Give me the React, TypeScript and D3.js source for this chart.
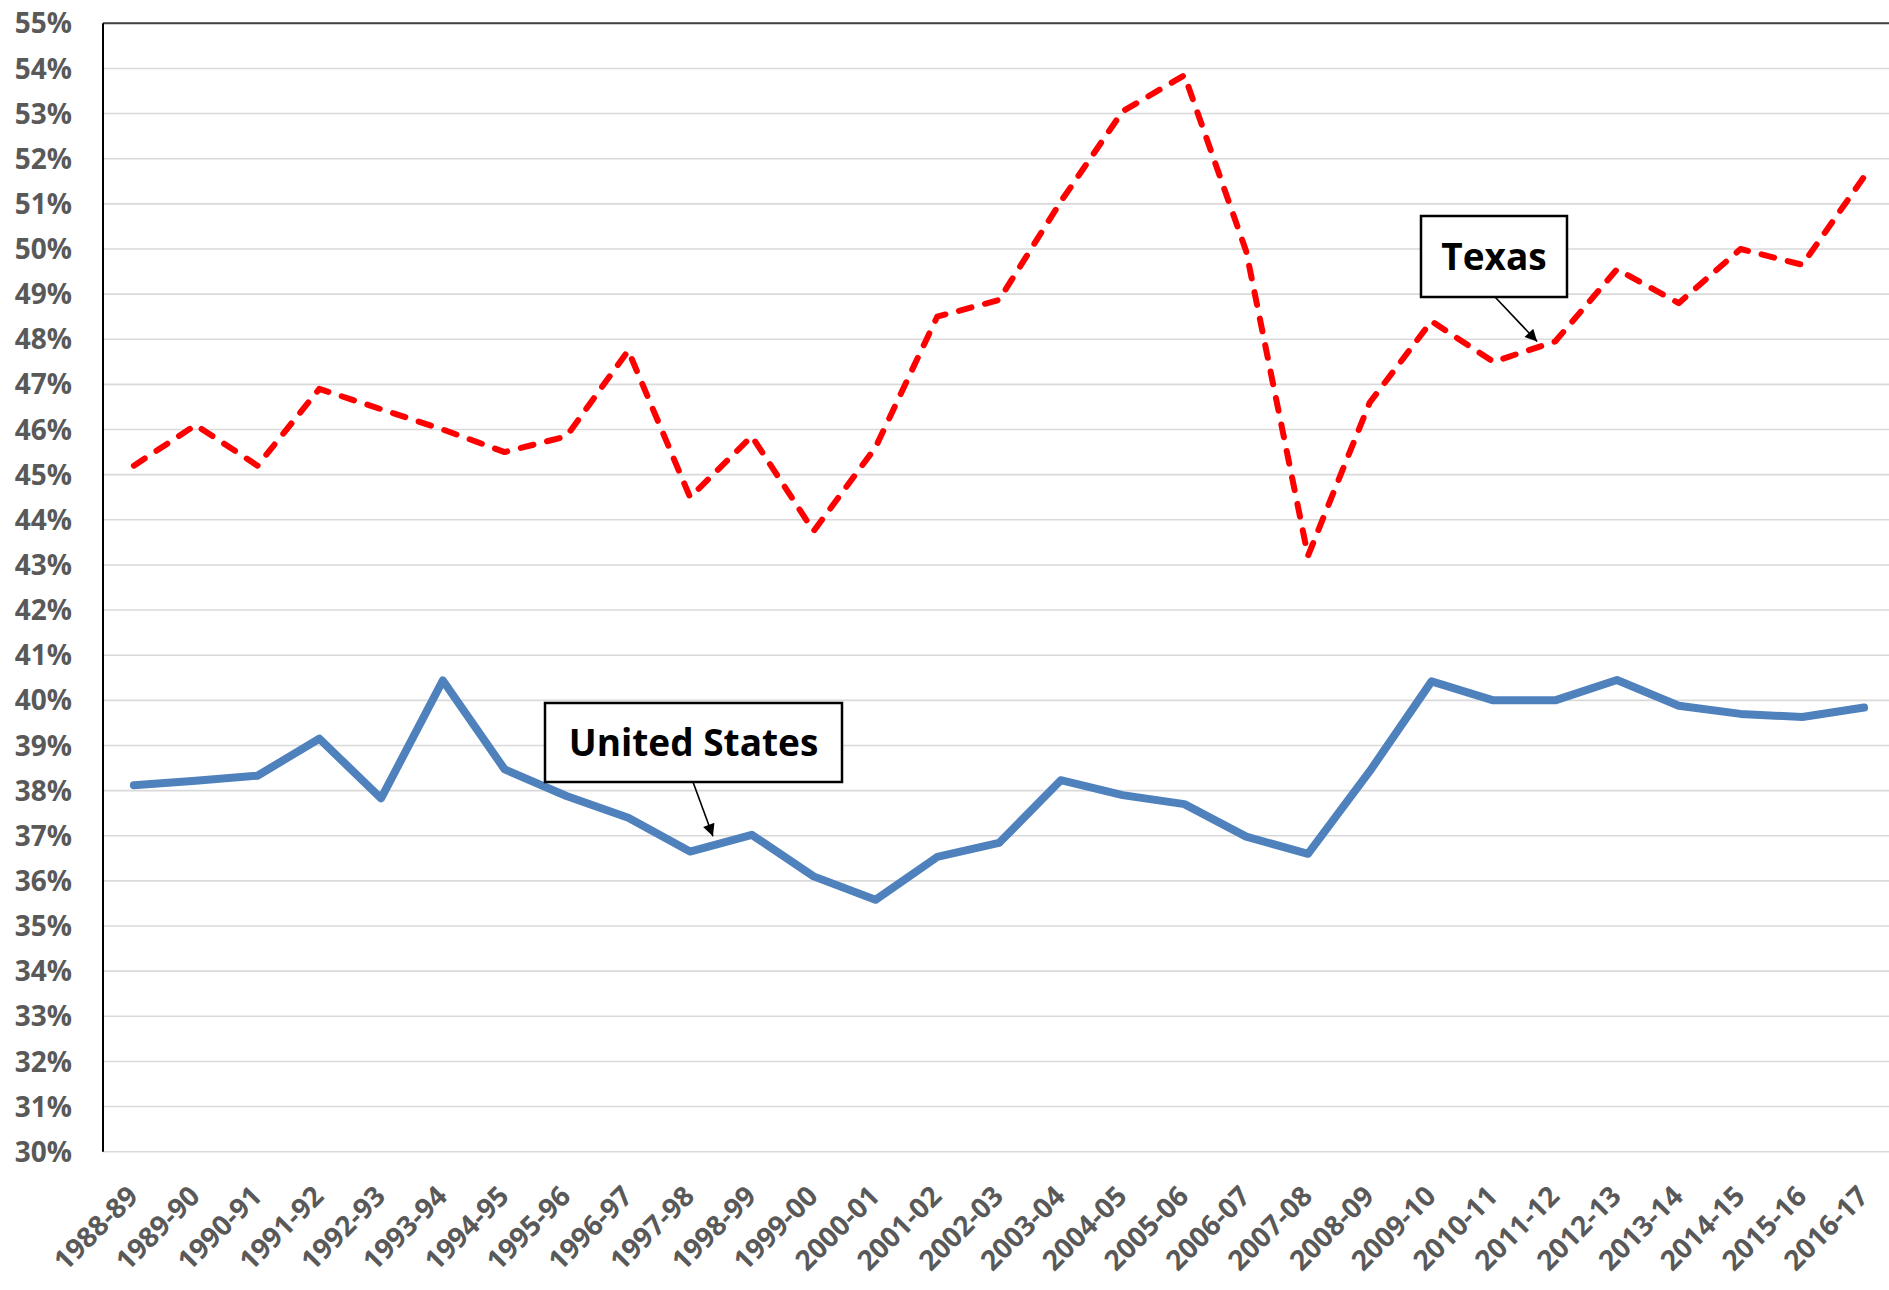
import React from "react";
import * as d3 from "d3";

// school years on the x axis
const years = [
  "1988-89", "1989-90", "1990-91", "1991-92", "1992-93", "1993-94", "1994-95",
  "1995-96", "1996-97", "1997-98", "1998-99", "1999-00", "2000-01", "2001-02",
  "2002-03", "2003-04", "2004-05", "2005-06", "2006-07", "2007-08", "2008-09",
  "2009-10", "2010-11", "2011-12", "2012-13", "2013-14", "2014-15", "2015-16",
  "2016-17",
];

// percent values
const texas = [
  45.2, 46.1, 45.2, 46.9, 46.45, 46.0, 45.5, 45.85, 47.75, 44.5, 45.85, 43.75,
  45.6, 48.5, 48.87, 51.05, 53.05, 53.85, 49.95, 43.2, 46.6, 48.4, 47.5, 47.95,
  49.55, 48.8, 50.0, 49.65, 51.6,
];

const unitedStates = [
  38.12, 38.22, 38.33, 39.15, 37.83, 40.44, 38.47, 37.88, 37.4, 36.65, 37.02,
  36.1, 35.58, 36.53, 36.84, 38.23, 37.9, 37.7, 36.98, 36.6, 38.43, 40.42,
  40.0, 40.0, 40.45, 39.88, 39.7, 39.63, 39.84,
];

const yTicks = d3.range(30, 56, 1);

const W = 1889;
const H = 1290;
const plotLeft = 103;
const plotRight = 1895;
const plotTop = 23.3;
const plotBottom = 1151.7;

const FONT = "'Open Sans', 'DejaVu Sans', sans-serif";

export default function App() {
  const x = d3.scalePoint<string>().domain(years).range([plotLeft, plotRight]).padding(0.5);
  const y = d3.scaleLinear().domain([30, 55]).range([plotBottom, plotTop]);

  const line = d3
    .line<number>()
    .x((_, i) => x(years[i]) as number)
    .y((d) => y(d));

  // annotation boxes, anchored near a data point
  const txX = x("2011-12") as number;
  const txY = y(texas[23]);
  const usX = ((x("1997-98") as number) + (x("1998-99") as number)) / 2;
  const usY = y((unitedStates[9] + unitedStates[10]) / 2);

  const notes = [
    { label: "Texas", bx: 1421, by: 216, bw: 146, bh: 81, ax: 1495, tx: txX - 18, ty: txY },
    { label: "United States", bx: 545, by: 703, bw: 297, bh: 79, ax: 693, tx: usX - 8, ty: usY - 7 },
  ];

  return (
    <svg
      width={W}
      height={H}
      style={{ position: "absolute", left: 0, top: 0, display: "block", background: "#fff" }}
    >
      <defs>
        <marker
          id="arrow"
          viewBox="0 0 10 10"
          refX="10"
          refY="5"
          markerWidth="14"
          markerHeight="12"
          markerUnits="userSpaceOnUse"
          orient="auto"
        >
          <path d="M0,0 L10,5 L0,10 z" fill="#000" />
        </marker>
      </defs>

      {/* gridlines */}
      {yTicks.map((t) => (
        <line
          key={t}
          x1={plotLeft}
          x2={plotRight}
          y1={y(t)}
          y2={y(t)}
          stroke="#d9d9d9"
          strokeWidth={1.6}
        />
      ))}

      {/* frame: top and left */}
      <line x1={plotLeft} x2={plotRight} y1={plotTop} y2={plotTop} stroke="#404040" strokeWidth={2} />
      <line x1={plotLeft} x2={plotLeft} y1={plotTop} y2={plotBottom} stroke="#000" strokeWidth={2} />

      {/* y labels */}
      {yTicks.map((t) => (
        <text
          key={t}
          x={72}
          y={y(t)}
          dy="0.36em"
          textAnchor="end"
          fontFamily={FONT}
          fontWeight="bold"
          fontSize={28}
          fill="#595959"
        >
          {t}%
        </text>
      ))}

      {/* x labels */}
      {years.map((yr) => (
        <text
          key={yr}
          transform={`translate(${(x(yr) as number) + 6},${1198}) rotate(-45)`}
          textAnchor="end"
          fontFamily={FONT}
          fontWeight="bold"
          fontSize={28}
          fill="#595959"
        >
          {yr}
        </text>
      ))}

      {/* series */}
      <path
        d={line(unitedStates) ?? ""}
        fill="none"
        stroke="#4f81bd"
        strokeWidth={8}
        strokeLinejoin="round"
        strokeLinecap="round"
      />
      <path
        d={line(texas) ?? ""}
        fill="none"
        stroke="#ff0000"
        strokeWidth={6}
        strokeDasharray="13 14"
        strokeLinejoin="round"
        strokeLinecap="round"
      />

      {/* annotations */}
      {notes.map((n) => (
        <g key={n.label}>
          <line
            x1={n.ax}
            y1={n.by + n.bh}
            x2={n.tx}
            y2={n.ty}
            stroke="#000"
            strokeWidth={1.6}
            markerEnd="url(#arrow)"
          />
          <rect x={n.bx} y={n.by} width={n.bw} height={n.bh} fill="#fff" stroke="#000" strokeWidth={2.5} />
          <text
            x={n.bx + n.bw / 2}
            y={n.by + n.bh / 2}
            dy="0.36em"
            textAnchor="middle"
            fontFamily={FONT}
            fontWeight="bold"
            fontSize={37}
            fill="#000"
          >
            {n.label}
          </text>
        </g>
      ))}
    </svg>
  );
}
